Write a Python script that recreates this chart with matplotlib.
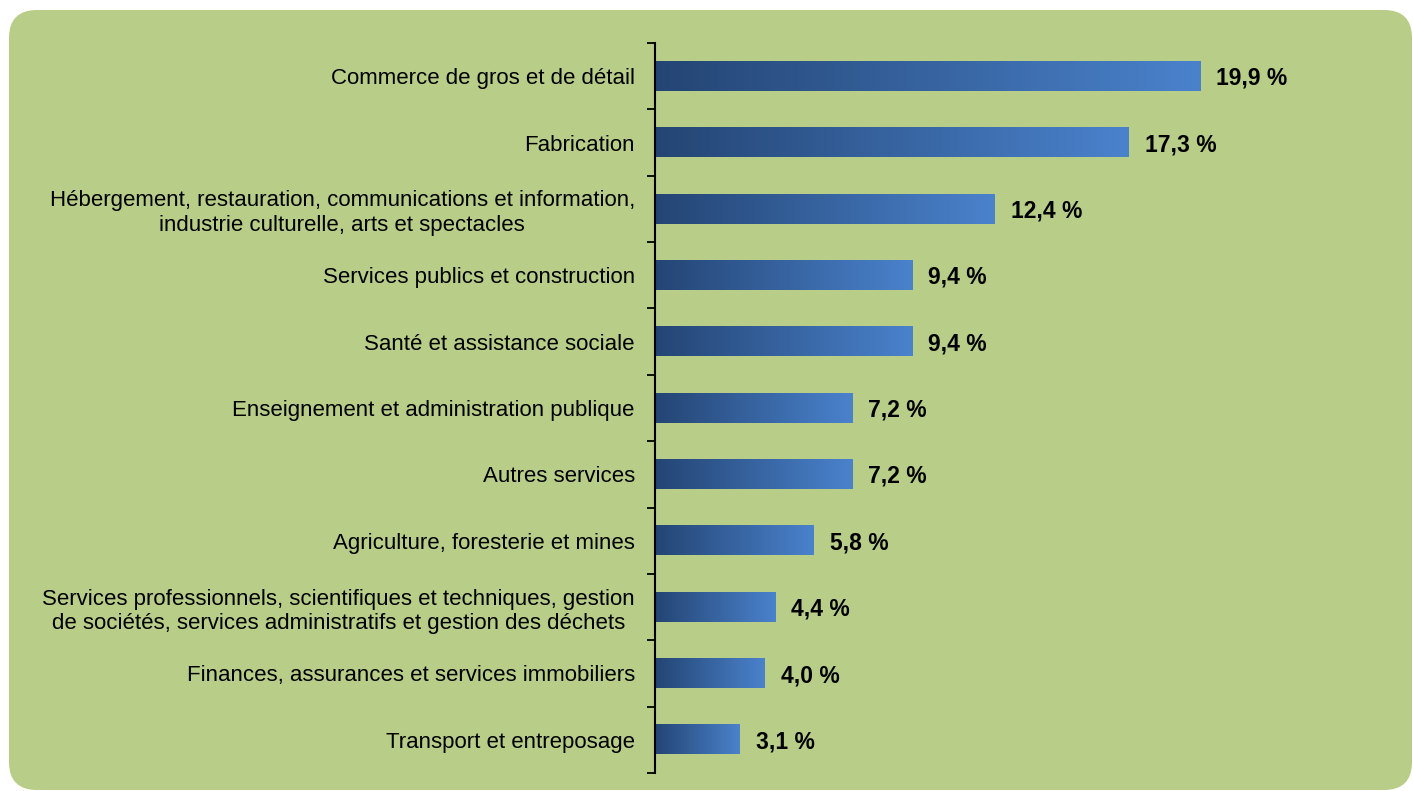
import numpy as np
import matplotlib
matplotlib.use("Agg")
import matplotlib.pyplot as plt
from matplotlib.colors import LinearSegmentedColormap
from matplotlib.patches import FancyBboxPatch
from matplotlib.transforms import IdentityTransform

plt.rcParams['font.family'] = ['Liberation Sans', 'DejaVu Sans']

#Data
secteurs = ["Commerce de gros et de détail",
            "Fabrication",
            "Hébergement, restauration, communications et information,\nindustrie culturelle, arts et spectacles",
            "Services publics et construction",
            "Santé et assistance sociale",
            "Enseignement et administration publique",
            "Autres services",
            "Agriculture, foresterie et mines",
            "Services professionnels, scientifiques et techniques, gestion\nde sociétés, services administratifs et gestion des déchets",
            "Finances, assurances et services immobiliers",
            "Transport et entreposage"]
parts = [19.9, 17.3, 12.4, 9.4, 9.4, 7.2, 7.2, 5.8, 4.4, 4.0, 3.1]
etiquettes = ["19,9 %", "17,3 %", "12,4 %", "9,4 %", "9,4 %", "7,2 %",
              "7,2 %", "5,8 %", "4,4 %", "4,0 %", "3,1 %"]

W, H = 1413, 791
fig = plt.figure(figsize=(W/100, H/100), dpi=100, facecolor='white')

#Rounded green panel behind the chart (pixel coordinates)
r = 28
fond = FancyBboxPatch((9+r, 1+r), 1403-2*r, 780-2*r,
                      boxstyle="round,pad=%d,rounding_size=%d" % (r, r),
                      transform=IdentityTransform(), facecolor='#B7CD88',
                      edgecolor='none', zorder=-10)
fig.patches.append(fond)

ax = fig.add_axes([655/W, 1-773/H, (1395-655)/W, (773-43)/H])
ax.set_facecolor('none')

y = np.arange(len(parts))
bars = ax.barh(y, parts, height=0.44, color='none', edgecolor='none')

cmap = LinearSegmentedColormap.from_list('bleu', ['#244574', '#4A82CC'])
grad = np.linspace(0, 1, 256).reshape(1, -1)
for b in bars:
    x0, y0 = b.get_x(), b.get_y()
    ax.imshow(grad, cmap=cmap, aspect='auto', interpolation='bicubic',
              extent=[x0, x0 + b.get_width(), y0 + b.get_height(), y0], zorder=2)

for v, lab, yy in zip(parts, etiquettes, y):
    ax.annotate(lab, (v, yy), xytext=(11.5, -1.5), textcoords='offset points',
                va='center', ha='left', fontsize=16.5, fontweight='bold')

ax.set_xlim(0, 740/27.39)
ax.set_ylim(len(parts)-0.5, -0.5)

for s in ['top', 'right', 'bottom']:
    ax.spines[s].set_visible(False)
ax.spines['left'].set_linewidth(1.5)
ax.set_xticks([])

#Tick marks between categories, labels at the centres
ax.set_yticks(np.arange(len(parts)+1) - 0.5)
ax.set_yticklabels([])
ax.tick_params(axis='y', which='major', length=6, width=1.3, direction='out')
ax.set_yticks(y, secteurs, minor=True)
ax.tick_params(axis='y', which='minor', length=0, pad=14.5, labelsize=16)
for t in ax.get_yticklabels(minor=True):
    t.set_multialignment('center')

fig.savefig('out.png', dpi=100, facecolor='white')
